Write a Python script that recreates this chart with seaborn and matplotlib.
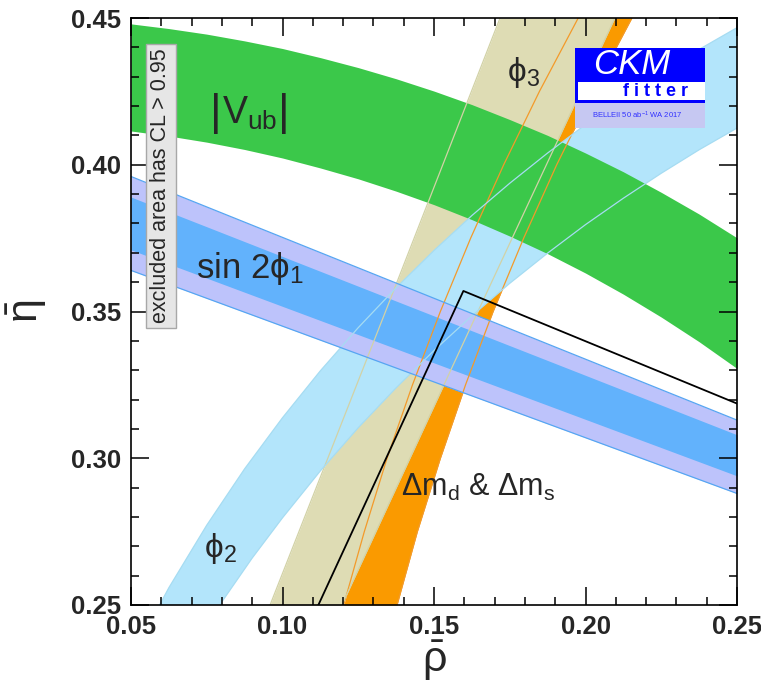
import matplotlib
matplotlib.use("Agg")
import numpy as np
import matplotlib.pyplot as plt
import seaborn as sns
from matplotlib.ticker import MultipleLocator
from matplotlib.patches import Rectangle

# ---- band edges (rho, eta) ----
# |Vub| : eta of lower / upper edge on a rho grid
vub_rho = [0.05, 0.0625, 0.075, 0.0875, 0.10, 0.1125, 0.125, 0.1375, 0.15,
           0.1625, 0.175, 0.1875, 0.20, 0.2125, 0.225, 0.2375, 0.25]
vub_lo = [0.4115, 0.4098, 0.4077, 0.4052, 0.4023, 0.3989, 0.3952, 0.3910, 0.3864,
          0.3813, 0.3757, 0.3697, 0.3631, 0.3559, 0.3481, 0.3397, 0.3306]
vub_up = [0.4480, 0.4464, 0.4445, 0.4422, 0.4396, 0.4365, 0.4331, 0.4293, 0.4251,
          0.4205, 0.4154, 0.4100, 0.4040, 0.3976, 0.3906, 0.3832, 0.3751]

# sin 2phi1 : straight bands (outer and inner)
s2b_rho = [0.05, 0.25]
s2b_out_lo = [0.364, 0.288]
s2b_out_up = [0.396, 0.313]
s2b_in_lo = [0.371, 0.294]
s2b_in_up = [0.389, 0.308]

# phi2 : upper-left and lower-right edges
phi2_up_rho = [0.05, 0.0625, 0.075, 0.0875, 0.10, 0.1125, 0.125, 0.1375, 0.15, 0.1625,
               0.175, 0.1875, 0.20, 0.2125, 0.225, 0.2375, 0.25, 0.26]
phi2_up_eta = [0.2319, 0.2559, 0.2772, 0.2964, 0.3138, 0.3298, 0.3445, 0.3581, 0.3708, 0.3827,
               0.3937, 0.4040, 0.4137, 0.4228, 0.4313, 0.4393, 0.4467, 0.4523]
phi2_lo_rho = [0.07, 0.08, 0.09, 0.10, 0.1125, 0.125, 0.1375, 0.15, 0.1625,
               0.175, 0.1875, 0.20, 0.2125, 0.225, 0.2375, 0.25, 0.26]
phi2_lo_eta = [0.2350, 0.2511, 0.2660, 0.2797, 0.2957, 0.3104, 0.3240, 0.3367, 0.3485,
               0.3596, 0.3699, 0.3796, 0.3886, 0.3971, 0.4051, 0.4125, 0.4181]

# phi3 : rho of left / right edge on an eta grid
phi3_eta = [0.25, 0.35, 0.45]
phi3_left = [0.0959, 0.1340, 0.1718]
phi3_right = [0.1196, 0.1645, 0.2097]

# Delta m_d & Delta m_s : rho of left / right edge on an eta grid
dm_eta = [0.25, 0.275, 0.30, 0.325, 0.35, 0.375, 0.40, 0.425, 0.45]
dm_left = [0.1202, 0.1270, 0.1345, 0.1429, 0.1521, 0.1621, 0.1730, 0.1848, 0.1976]
dm_right = [0.1378, 0.1445, 0.1521, 0.1604, 0.1695, 0.1796, 0.1905, 0.2025, 0.2153]

# unitarity triangle
ut_rho = [0.0, 0.1597, 1.0]
ut_eta = [0.0, 0.357, 0.0]

GREEN = "#3bc84a"
LAV = "#bdc3fb"
BLUE = "#62b2fc"
BLUE_EDGE = "#56a6f2"
LBLUE = "#b3e5fb"
LBLUE_EDGE = "#a6dcf2"
KHAKI = "#dedcb4"
KHAKI_EDGE = "#d2d2a6"
ORANGE = "#fa9a00"
ORANGE_EDGE = "#f39a2a"

sns.set_theme(style="ticks")
plt.rcParams["font.family"] = ["Liberation Sans", "DejaVu Sans"]
plt.rcParams["mathtext.fontset"] = "custom"
plt.rcParams["mathtext.rm"] = "Liberation Sans"
plt.rcParams["mathtext.it"] = "Liberation Sans:italic"
plt.rcParams["mathtext.bf"] = "Liberation Sans:bold"
plt.rcParams["mathtext.default"] = "regular"
plt.rcParams["mathtext.fallback"] = "stixsans"

fig = plt.figure(figsize=(7.61, 6.99), dpi=100)
ax = fig.add_axes([131 / 761, 1 - 605 / 699, 606 / 761, 587 / 699])

# fills, bottom to top
ax.fill_betweenx(dm_eta, dm_left, dm_right, color=ORANGE, lw=0)
ax.fill_betweenx(phi3_eta, phi3_left, phi3_right, color=KHAKI, lw=0)
ax.fill(phi2_up_rho + phi2_lo_rho[::-1], phi2_up_eta + phi2_lo_eta[::-1], color=LBLUE, lw=0)
ax.fill_between(s2b_rho, s2b_out_lo, s2b_out_up, color=LAV, lw=0)
ax.fill_between(s2b_rho, s2b_in_lo, s2b_in_up, color=BLUE, lw=0)
ax.fill_between(vub_rho, vub_lo, vub_up, color=GREEN, lw=0)

# band contours drawn over everything
lw = 0.9
ax.plot(dm_left, dm_eta, color=ORANGE_EDGE, lw=lw)
ax.plot(dm_right, dm_eta, color=ORANGE_EDGE, lw=lw)
ax.plot(phi3_left, phi3_eta, color=KHAKI_EDGE, lw=lw)
ax.plot(phi3_right, phi3_eta, color=KHAKI_EDGE, lw=lw)
ax.plot(phi2_up_rho, phi2_up_eta, color=LBLUE_EDGE, lw=lw)
ax.plot(phi2_lo_rho, phi2_lo_eta, color=LBLUE_EDGE, lw=lw)
ax.plot(s2b_rho, s2b_out_lo, color=BLUE_EDGE, lw=lw)
ax.plot(s2b_rho, s2b_out_up, color=BLUE_EDGE, lw=lw)

sns.lineplot(x=ut_rho, y=ut_eta, sort=False, color="black", lw=1.3, ax=ax)

ax.set_xlim(0.05, 0.25)
ax.set_ylim(0.25, 0.45)
ax.xaxis.set_major_locator(MultipleLocator(0.05))
ax.xaxis.set_minor_locator(MultipleLocator(0.01))
ax.yaxis.set_major_locator(MultipleLocator(0.05))
ax.yaxis.set_minor_locator(MultipleLocator(0.01))
ax.xaxis.set_major_formatter(lambda v, p: f"{v:.2f}")
ax.yaxis.set_major_formatter(lambda v, p: f"{v:.2f}")
ax.tick_params(which="both", direction="in", top=True, right=True, color="black", width=1.1)
ax.tick_params(which="major", length=13, labelsize=18.5)
ax.tick_params(which="minor", length=5.5)
ax.tick_params(axis="x", which="major", pad=7)
ax.tick_params(axis="y", which="major", pad=7)
for lab in ax.get_xticklabels() + ax.get_yticklabels():
    lab.set_fontweight("bold")
for a in (ax.xaxis, ax.yaxis):
    a.set_zorder(10)
for s in ax.spines.values():
    s.set_zorder(10)
    s.set_linewidth(1.2)
    s.set_color("black")

ax.set_xlabel(r"$\bar{\rho}$", fontsize=31, math_fontfamily="dejavusans")
ax.xaxis.set_label_coords(0.5, -0.058)
ax.set_ylabel(r"$\bar{\eta}$", fontsize=31, math_fontfamily="dejavusans")
ax.yaxis.set_label_coords(-0.135, 0.5)

# band labels
ax.text(0.0781, 0.4175, "|", fontsize=32, ha="center", va="center", zorder=12)
ax.text(0.0891, 0.4175, r"$V_{ub}$", fontsize=27, ha="center", va="center", zorder=12)
ax.text(0.1005, 0.4175, "|", fontsize=32, ha="center", va="center", zorder=12)
ax.text(0.0893, 0.3648, r"sin 2$\phi_1$", fontsize=25, ha="center", va="center", zorder=12)
ax.text(0.0794, 0.2694, r"$\phi_2$", fontsize=24, ha="center", va="center", zorder=12)
ax.text(0.1794, 0.4313, r"$\phi_3$", fontsize=24, ha="center", va="center", zorder=12)
ax.text(0.1645, 0.2899, r"$\Delta m_d$ & $\Delta m_s$", fontsize=22, ha="center", va="center", zorder=12)

ax.text(0.0495, 0.714, "excluded area has CL > 0.95", transform=ax.transAxes, rotation=90,
        fontsize=15.5, ha="center", va="center", zorder=12,
        bbox=dict(boxstyle="square,pad=0.22", facecolor="#e6e6e6", edgecolor="#a8a8a8", lw=1))

# CKMfitter logo
lax = fig.add_axes([575 / 761, 1 - 128 / 699, 130 / 761, 80 / 699])
lax.set_xlim(0, 1)
lax.set_ylim(0, 1)
lax.axis("off")
lax.add_patch(Rectangle((0, 0), 1, 0.3125, color="#c6c8f2", lw=0))
lax.add_patch(Rectangle((0, 0.3125), 1, 0.6875, color="#0000ff", lw=0))
lax.add_patch(Rectangle((0.026, 0.35), 0.974, 0.225, color="white", lw=0))
lax.text(0.44, 0.80, "CKM", color="white", style="italic", fontsize=25, ha="center", va="center")
lax.text(0.62, 0.455, "f i t t e r", color="#0000ff", fontsize=13, weight="bold", ha="center", va="center")
lax.text(0.48, 0.155, r"BELLEII 50 ab$^{-1}$ WA 2017", color="#3030ff", fontsize=5.5, ha="center", va="center")

fig.savefig("out.png", dpi=100)
